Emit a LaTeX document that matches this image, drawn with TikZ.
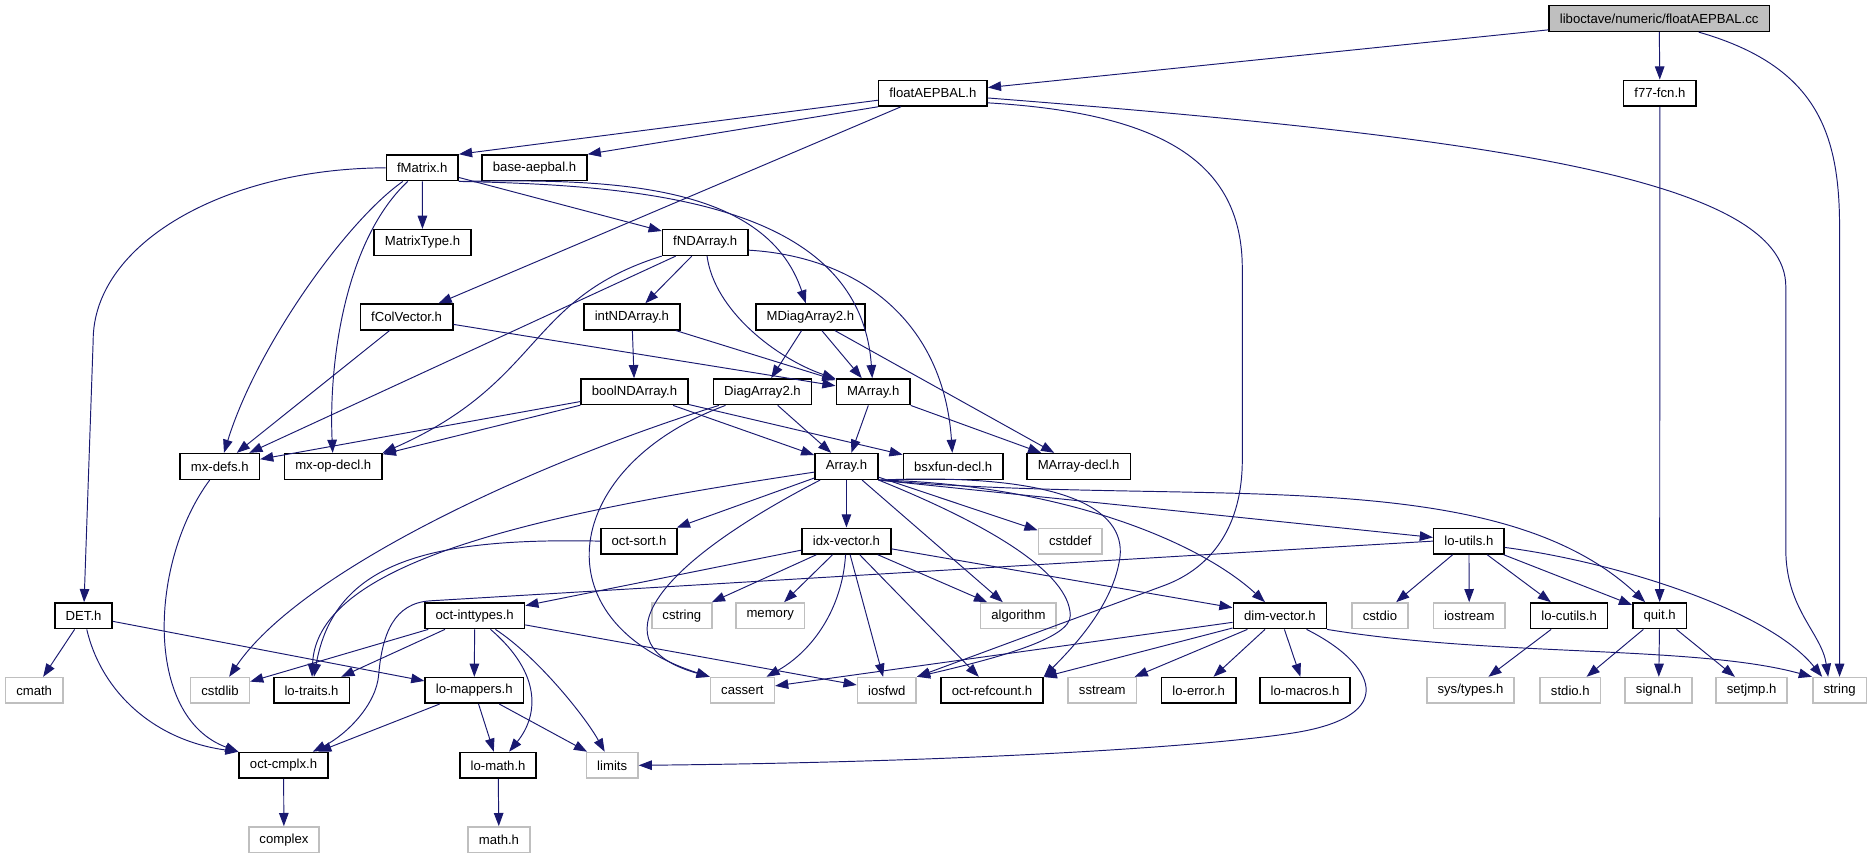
\documentclass[tikz,border=0pt]{standalone}
\usepackage{fontspec}
\setmainfont{Liberation Sans}
\usetikzlibrary{arrows.meta}
\definecolor{incblue}{HTML}{191970}
\definecolor{sysgray}{HTML}{BFBFBF}
\tikzset{
  hdr/.style={draw=black,line width=1.3pt,rectangle,fill=white,inner xsep=9pt,inner ysep=0pt,
    minimum height=21.5pt,font=\fontsize{11}{13}\selectfont},
  sys/.style={hdr,draw=sysgray},
  root/.style={hdr,fill=sysgray},
  inc/.style={draw=incblue,line width=0.8pt,-{Triangle[length=11pt,width=8pt]}}
}
\begin{document}
\begin{tikzpicture}[x=1pt,y=-1pt]
    \useasboundingbox (0,0) rectangle (1568,719);

    % top rows
    \node[root] (cc) at (1389,15.5) {liboctave/numeric/floatAEPBAL.cc};
    \node[hdr] (fah) at (781,78) {floatAEPBAL.h};
    \node[hdr] (f77) at (1389.6,78) {f77-fcn.h};
    \node[hdr] (fMatrix) at (353.5,140.5) {fMatrix.h};
    \node[hdr] (baseaep) at (447.5,140.5) {base-aepbal.h};
    \node[hdr] (MatrixType) at (353.7,203) {MatrixType.h};
    \node[hdr] (fNDArray) at (590.4,203) {fNDArray.h};
    \node[hdr] (fColVector) at (340.4,265.3) {fColVector.h};
    \node[hdr] (intNDArray) at (529,265.3) {intNDArray.h};
    \node[hdr] (MDiag) at (678.4,265.3) {MDiagArray2.h};
    \node[hdr] (boolNDArray) at (531.2,328) {boolNDArray.h};
    \node[hdr] (Diag) at (638.3,328) {DiagArray2.h};
    \node[hdr] (MArray) at (731,328) {MArray.h};
    \node[hdr] (mxdefs) at (184,390.5) {mx-defs.h};
    \node[hdr] (mxopdecl) at (279,390.5) {mx-op-decl.h};
    \node[hdr] (Array) at (708.6,390.5) {Array.h};
    \node[hdr] (bsxfun) at (798,390.5) {bsxfun-decl.h};
    \node[hdr] (MArraydecl) at (903,390.5) {MArray-decl.h};
    \node[hdr] (octsort) at (535,453) {oct-sort.h};
    \node[hdr] (idx) at (708.6,453) {idx-vector.h};
    \node[sys] (cstddef) at (896,453) {cstddef};
    \node[hdr] (loutils) at (1229.7,453) {lo-utils.h};

    % middle rows
    \node[hdr] (DET) at (70,515.5) {DET.h};
    \node[hdr] (inttypes) at (397.4,515.5) {oct-inttypes.h};
    \node[sys] (cstring) at (570.8,515.5) {cstring};
    \node[sys] (memory) at (644.8,515.5) {memory};
    \node[sys] (algorithm) at (852.6,515.5) {algorithm};
    \node[hdr] (dimvec) at (1071.4,515.5) {dim-vector.h};
    \node[sys] (cstdio) at (1155.2,515.5) {cstdio};
    \node[sys] (iostream) at (1230,515.5) {iostream};
    \node[hdr] (locutils) at (1313.6,515.5) {lo-cutils.h};
    \node[hdr] (quit) at (1389.4,515.5) {quit.h};

    \node[sys] (cmath) at (28.6,578) {cmath};
    \node[sys] (cstdlib) at (184.2,578) {cstdlib};
    \node[hdr] (lotraits) at (260.8,578) {lo-traits.h};
    \node[hdr] (lomappers) at (397,578) {lo-mappers.h};
    \node[sys] (cassert) at (621.5,578) {cassert};
    \node[sys] (iosfwd) at (742.4,578) {iosfwd};
    \node[hdr] (refcount) at (830.5,578) {oct-refcount.h};
    \node[sys] (sstream) at (922.8,578) {sstream};
    \node[hdr] (loerror) at (1003.5,578) {lo-error.h};
    \node[hdr] (lomacros) at (1092.5,578) {lo-macros.h};
    \node[sys] (systypes) at (1231,578) {sys/types.h};
    \node[sys] (stdioh) at (1314.6,578) {stdio.h};
    \node[sys] (signalh) at (1388.5,578) {signal.h};
    \node[sys] (setjmp) at (1466.4,578) {setjmp.h};
    \node[sys] (string) at (1540,578) {string};

    % bottom rows
    \node[hdr] (cmplx) at (237.4,640.7) {oct-cmplx.h};
    \node[hdr] (lomath) at (417,640.7) {lo-math.h};
    \node[sys] (limits) at (512.5,640.7) {limits};
    \node[sys] (complex) at (237.7,703) {complex};
    \node[sys] (mathh) at (417.7,703) {math.h};

    % includes of the .cc and floatAEPBAL.h
    \draw[inc] (cc) -- (fah);
    \draw[inc] (cc) -- (f77);
    \draw[inc] (cc.-19) .. controls (1520,55) and (1540,110) .. (1540,190) -- (string.north);
    \draw[inc] (fah) -- (fMatrix.north east);
    \draw[inc] (fah.south west) -- (baseaep.north east);
    \draw[inc] (fah) -- (fColVector);
    \draw[inc] (fah.-5) .. controls (1250,115) and (1495,150) .. (1495,240) -- (1495,460)
      .. controls (1495,510) and (1525,530) .. (string.130);
    \draw[inc] (fah.-10) .. controls (980,95) and (1040,140) .. (1040,225) -- (1040,385)
      .. controls (1040,440) and (1015,475) .. (975,490) -- (iosfwd.north east);
    \draw[inc] (f77) -- (quit);

    % fMatrix.h
    \draw[inc] (fMatrix) -- (MatrixType);
    \draw[inc] (fMatrix) -- (fNDArray);
    \draw[inc] (fMatrix.west) .. controls (188,141) and (78,204) .. (78,285) -- (DET);
    \draw[inc] (fMatrix) .. controls (290,185) and (215,290) .. (mxdefs);
    \draw[inc] (fMatrix) .. controls (290,200) and (275,300) .. (mxopdecl);
    \draw[inc] (fMatrix.south east) .. controls (500,150) and (640,150) .. (MDiag);
    \draw[inc] (fMatrix.south east) .. controls (540,155) and (720,170) .. (MArray);

    % fNDArray.h, fColVector.h and friends
    \draw[inc] (fNDArray) -- (intNDArray);
    \draw[inc] (fNDArray) .. controls (598,260) and (650,300) .. (MArray);
    \draw[inc] (fNDArray) -- (mxdefs);
    \draw[inc] (fNDArray.south west) .. controls (440,250) and (455,320) .. (mxopdecl.north east);
    \draw[inc] (fNDArray.-10) .. controls (720,215) and (790,270) .. (bsxfun);
    \draw[inc] (fColVector) -- (mxdefs);
    \draw[inc] (fColVector) -- (MArray);
    \draw[inc] (intNDArray) -- (boolNDArray);
    \draw[inc] (intNDArray) -- (MArray);
    \draw[inc] (MDiag) -- (Diag);
    \draw[inc] (MDiag) -- (MArray);
    \draw[inc] (MDiag) -- (MArraydecl);
    \draw[inc] (MArray) -- (Array);
    \draw[inc] (MArray) -- (MArraydecl);
    \draw[inc] (boolNDArray) -- (mxdefs);
    \draw[inc] (boolNDArray) -- (mxopdecl);
    \draw[inc] (boolNDArray) -- (Array);
    \draw[inc] (boolNDArray) -- (bsxfun);
    \draw[inc] (Diag) -- (Array);
    \draw[inc] (Diag) .. controls (440,390) and (250,480) .. (cstdlib);
    \draw[inc] (Diag) .. controls (470,390) and (450,520) .. (cassert.north west);
    \draw[inc] (mxdefs) .. controls (125,470) and (120,600) .. (cmplx.north west);

    % Array.h
    \draw[inc] (Array.-170) .. controls (450,430) and (265,470) .. (lotraits);
    \draw[inc] (Array) -- (octsort);
    \draw[inc] (Array) -- (idx);
    \draw[inc] (Array) .. controls (545,475) and (500,540) .. (cassert.north west);
    \draw[inc] (Array) -- (algorithm);
    \draw[inc] (Array) -- (cstddef);
    \draw[inc] (Array.south east) .. controls (830,440) and (895,480) .. (896,515)
      .. controls (897,535) and (830,552) .. (iosfwd.north east);
    \draw[inc] (Array.south east) .. controls (900,395) and (945,430) .. (937,470)
      .. controls (930,510) and (895,545) .. (refcount.north east);
    \draw[inc] (Array.south east) .. controls (880,405) and (1000,450) .. (dimvec);
    \draw[inc] (Array.south east) -- (loutils);
    \draw[inc] (Array.south east) .. controls (1000,425) and (1250,385) .. (quit);

    % idx-vector.h and oct-sort.h
    \draw[inc] (idx) -- (inttypes);
    \draw[inc] (idx) -- (cstring);
    \draw[inc] (idx) -- (memory);
    \draw[inc] (idx) .. controls (705,510) and (680,545) .. (cassert);
    \draw[inc] (idx) -- (iosfwd);
    \draw[inc] (idx) -- (algorithm);
    \draw[inc] (idx) -- (refcount);
    \draw[inc] (idx) -- (dimvec);
    \draw[inc] (octsort.west) .. controls (360,450) and (280,470) .. (lotraits);

    % oct-inttypes.h, DET.h, lo-mappers.h
    \draw[inc] (inttypes) -- (cstdlib);
    \draw[inc] (inttypes) -- (lotraits);
    \draw[inc] (inttypes) -- (lomappers);
    \draw[inc] (inttypes) .. controls (455,565) and (450,600) .. (lomath);
    \draw[inc] (inttypes) .. controls (450,550) and (490,600) .. (limits);
    \draw[inc] (inttypes) -- (iosfwd);
    \draw[inc] (DET) -- (cmath);
    \draw[inc] (DET) .. controls (85,580) and (130,620) .. (cmplx.north west);
    \draw[inc] (DET) -- (lomappers);
    \draw[inc] (lomappers) -- (cmplx);
    \draw[inc] (lomappers) -- (lomath);
    \draw[inc] (lomappers) -- (limits);
    \draw[inc] (cmplx) -- (complex);
    \draw[inc] (lomath) -- (mathh);

    % lo-utils.h, quit.h
    \draw[inc] (loutils.west) -- (360,503) .. controls (330,505) and (320,530) .. (317,565)
      .. controls (315,590) and (290,615) .. (cmplx.25);
    \draw[inc] (loutils) -- (cstdio);
    \draw[inc] (loutils) -- (iostream);
    \draw[inc] (loutils) -- (locutils);
    \draw[inc] (loutils) -- (quit);
    \draw[inc] (loutils.-10) .. controls (1350,470) and (1480,510) .. (string.142);
    \draw[inc] (locutils) -- (systypes);
    \draw[inc] (quit) -- (stdioh);
    \draw[inc] (quit) -- (signalh);
    \draw[inc] (quit) -- (setjmp);

    % dim-vector.h
    \draw[inc] (dimvec) -- (cassert);
    \draw[inc] (dimvec) -- (refcount);
    \draw[inc] (dimvec) -- (sstream);
    \draw[inc] (dimvec) -- (loerror);
    \draw[inc] (dimvec) -- (lomacros);
    \draw[inc] (dimvec.-27) .. controls (1150,555) and (1175,600) .. (1080,614)
      .. controls (1000,626) and (800,638) .. (limits.east);
    \draw[inc] (dimvec.south east) .. controls (1250,550) and (1420,540) .. (string.north west);
\end{tikzpicture}
\end{document}
